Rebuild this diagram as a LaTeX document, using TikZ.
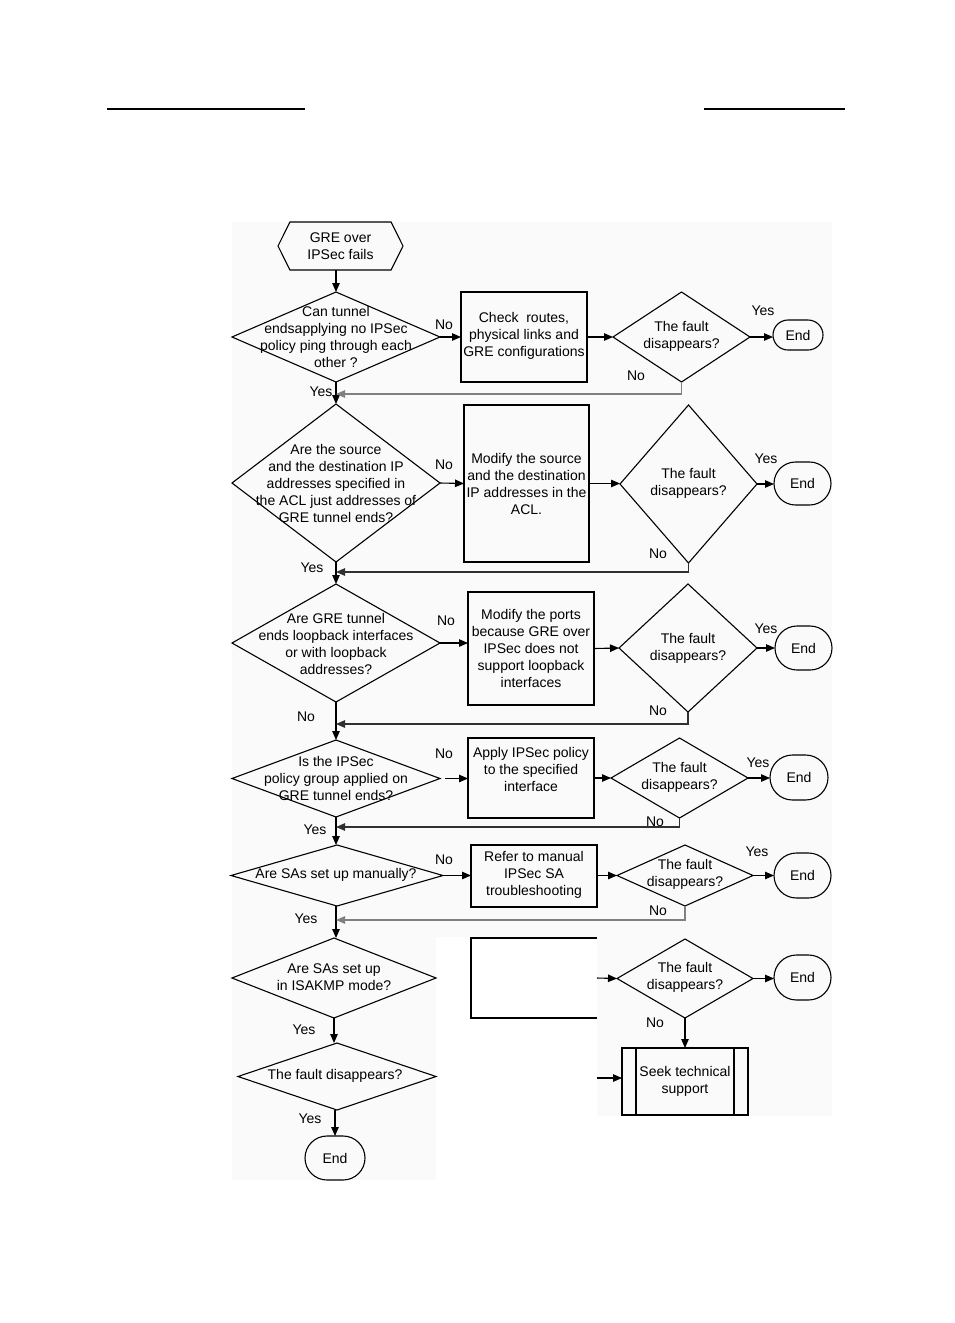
\documentclass[tikz,border=0pt]{standalone}
\usepackage{fontspec}
\setmainfont{Liberation Sans}
\usetikzlibrary{shapes.geometric,shapes.misc,shapes.symbols,arrows.meta}
\definecolor{bgc}{HTML}{FAFAFA}
\definecolor{loopgray}{HTML}{808080}
\definecolor{loopdark}{HTML}{303030}
\begin{document}
\begin{tikzpicture}[x=1pt,y=-1pt,line width=1.1pt,
  every node/.style={font=\fontsize{14}{17}\selectfont, inner sep=0pt, outer sep=0pt, align=center},
  dia/.style={draw, diamond, fill=none},
  box/.style={draw, rectangle},
  term/.style={draw, rounded rectangle},
  startshape/.style={draw, signal, signal to=east and west, signal pointer angle=127},
  txt/.style={},
  lbl/.style={},
  arr/.style={-{Triangle[length=9pt,width=7.5pt]}},
  loopg/.style={arr, draw=loopgray},
  loopd/.style={arr, draw=loopdark}
]
\useasboundingbox (0,0) rectangle (954,1323);
% background tint
\fill[bgc] (232,222) rectangle (832,1180);
\fill[white] (436,937) rectangle (597,1180);
\fill[white] (597,1116) rectangle (832,1180);
% header rules
\draw[line width=1.5pt] (107,109) -- (305,109);
\draw[line width=1.5pt] (704,109) -- (845,109);

% start
\node[startshape, minimum width=125, minimum height=48] (s) at (340.5,246) {GRE over\\IPSec fails};

% row 1
\node[dia, minimum width=208, minimum height=90] (d1) at (336,337) {};
\node[txt] (d1t) at (336,336.5) {Can tunnel\\endsapplying no IPSec\\policy ping through each\\other ?};
\node[box, minimum width=126, minimum height=90] (b1) at (524,337) {};
\node[txt] (b1t) at (524,336) {Check~ routes,\\physical links and\\GRE configurations};
\node[dia, minimum width=137, minimum height=90] (f1) at (681.5,337) {};
\node[txt] (f1t) at (681.5,336) {The fault\\disappears?};
\node[term, minimum width=50, minimum height=30] (e1) at (798,335) {End};
\coordinate (j1) at (336,394);

% row 2
\node[dia, minimum width=208, minimum height=158] (d2) at (336,483) {};
\node[txt] (d2t) at (336,483) {Are the source\\and the destination IP\\addresses specified in\\the ACL just addresses of\\GRE tunnel ends?};
\node[box, minimum width=125, minimum height=157] (b2) at (526.5,483.5) {};
\node[txt] (b2t) at (526.5,483.5) {Modify the source\\and the destination\\IP addresses in the\\ACL.};
\node[dia, minimum width=137, minimum height=158] (f2) at (688.5,484) {};
\node[txt] (f2t) at (688.5,483) {The fault\\disappears?};
\node[term, minimum width=57, minimum height=43] (e2) at (802.5,483.5) {End};
\coordinate (j2) at (336,572);

% row 3
\node[dia, minimum width=208, minimum height=118] (d3) at (336,643) {};
\node[txt] (d3t) at (336,643.5) {Are GRE tunnel\\ends loopback interfaces\\or with loopback\\addresses?};
\node[box, minimum width=126, minimum height=113] (b3) at (531,648.5) {};
\node[txt] (b3t) at (531,648) {Modify the ports\\because GRE over\\IPSec does not\\support loopback\\interfaces};
\node[dia, minimum width=138, minimum height=128] (f3) at (688,648) {};
\node[txt] (f3t) at (688,648) {The fault\\disappears?};
\node[term, minimum width=57, minimum height=44] (e3) at (803.5,648) {End};
\coordinate (j3) at (336,724);

% row 4
\node[dia, minimum width=208, minimum height=77] (d4) at (336,778.5) {};
\node[txt] (d4t) at (336,778) {Is the IPSec\\policy group applied on\\GRE tunnel ends?};
\node[box, minimum width=126, minimum height=80] (b4) at (531,778) {};
\node[txt] (b4t) at (531,769) {Apply IPSec policy\\to the specified\\interface};
\node[dia, minimum width=137, minimum height=80] (f4) at (679.5,778) {};
\node[txt] (f4t) at (679.5,777.5) {The fault\\disappears?};
\node[term, minimum width=58, minimum height=45] (e4) at (799,777.5) {End};
\coordinate (j4) at (336,827);

% row 5
\node[dia, minimum width=212, minimum height=61] (d5) at (337,875.5) {};
\node[txt] (d5t) at (336,875) {Are SAs set up manually?};
\node[box, minimum width=126, minimum height=62] (b5) at (534,876) {};
\node[txt] (b5t) at (534,875) {Refer to manual\\IPSec SA\\troubleshooting};
\node[dia, minimum width=136, minimum height=61] (f5) at (685,875.5) {};
\node[txt] (f5t) at (685,874.5) {The fault\\disappears?};
\node[term, minimum width=57, minimum height=45] (e5) at (802.5,875.5) {End};
\coordinate (j5) at (336,920);

% row 6
\node[dia, minimum width=204, minimum height=80] (d6) at (334,978) {};
\node[txt] (d6t) at (334,977.5) {Are SAs set up\\in ISAKMP mode?};
\draw (597,938) -- (471,938) -- (471,1018) -- (597,1018);
\coordinate (c6) at (597,978);
\node[dia, minimum width=136, minimum height=79] (f6) at (685,978.5) {};
\node[txt] (f6t) at (685,977.5) {The fault\\disappears?};
\node[term, minimum width=57, minimum height=45] (e6) at (802.5,977.5) {End};
\node[box, minimum width=126, minimum height=67] (seek) at (685,1081.5) {};
\node[txt] (seekt) at (685,1081.5) {Seek technical\\support};
\draw ([xshift=14pt]seek.north west) -- ([xshift=14pt]seek.south west);
\draw ([xshift=-14pt]seek.north east) -- ([xshift=-14pt]seek.south east);
\coordinate (c7) at (597,1078);

% row 7
\node[dia, minimum width=198, minimum height=67] (d7) at (337,1076.5) {};
\node[txt] (d7t) at (335,1076) {The fault disappears?};
\node[term, minimum width=60, minimum height=44] (e7) at (335,1158) {End};

% main vertical flow
\draw[arr] (s.south -| d1.north) -- (d1.north);
\draw[arr] (d1.south) -- (d2.north);
\draw[arr] (d2.south) -- (d3.north);
\draw[arr] (d3.south) -- (d4.north);
\draw[arr] (d4.south) -- (d4.south |- d5.north);
\draw[arr] (d4.south |- d5.south) -- (d6.north -| d4.south);
\draw[arr] (d6.south) -- (d6.south |- d7.north);
\draw[arr] (d7.south -| e7.north) -- (e7.north);

% horizontal flows
\draw[arr] (d1.east) -- (b1.west);
\draw[arr] (b1.east) -- (f1.west);
\draw[arr] (f1.east) -- (e1.west |- f1.east);
\draw[arr] (d2.east) -- (b2.west);
\draw[arr] (b2.east) -- (f2.west |- b2.east);
\draw[arr] (f2.east) -- (e2.west |- f2.east);
\draw[arr] (d3.east) -- (d3.east -| b3.west);
\draw[arr] (b3.east) -- (f3.west);
\draw[arr] (f3.east) -- (e3.west);
\draw[arr] ([xshift=5pt]d4.east) -- (d4.east -| b4.west);
\draw[arr] (b4.east) -- (f4.west);
\draw[arr] (f4.east) -- (e4.west |- f4.east);
\draw[arr] (d5.east) -- (d5.east -| b5.west);
\draw[arr] (b5.east |- f5.west) -- (f5.west);
\draw[arr] (f5.east) -- (e5.west |- f5.east);
\draw[arr] (c6) -- (f6.west);
\draw[arr] (f6.east) -- (e6.west |- f6.east);
\draw[arr] (f6.south) -- (seek.north);
\draw[arr] (c7) -- (c7 -| seek.west);

% loop-backs
\draw[loopg] (f1.south) |- (j1);
\draw[loopd] (f2.south) |- (j2);
\draw[loopd] (f3.south) |- (j3);
\draw[loopd] (f4.south) |- (j4);
\draw[loopg] (f5.south) |- (j5);

% labels
\node[lbl] (l1n) at (444,325) {No};
\node[lbl] (l1y) at (763,311) {Yes};
\node[lbl] (l1n2) at (636,376) {No};
\node[lbl] (l1y2) at (321,392) {Yes};
\node[lbl] (l2n) at (444,465) {No};
\node[lbl] (l2y) at (766,459) {Yes};
\node[lbl] (l2n2) at (658,554) {No};
\node[lbl] (l2y2) at (312,568) {Yes};
\node[lbl] (l3n) at (446,621) {No};
\node[lbl] (l3y) at (766,629) {Yes};
\node[lbl] (l3n2) at (658,711) {No};
\node[lbl] (l3n3) at (306,717) {No};
\node[lbl] (l4n) at (444,754) {No};
\node[lbl] (l4y) at (758,763) {Yes};
\node[lbl] (l4n2) at (655,822) {No};
\node[lbl] (l4y2) at (315,830) {Yes};
\node[lbl] (l5n) at (444,860) {No};
\node[lbl] (l5y) at (757,852) {Yes};
\node[lbl] (l5n2) at (658,911) {No};
\node[lbl] (l5y2) at (306,919) {Yes};
\node[lbl] (l6n) at (655,1023) {No};
\node[lbl] (l6y) at (304,1030) {Yes};
\node[lbl] (l7y) at (310,1119) {Yes};
\end{tikzpicture}
\end{document}
